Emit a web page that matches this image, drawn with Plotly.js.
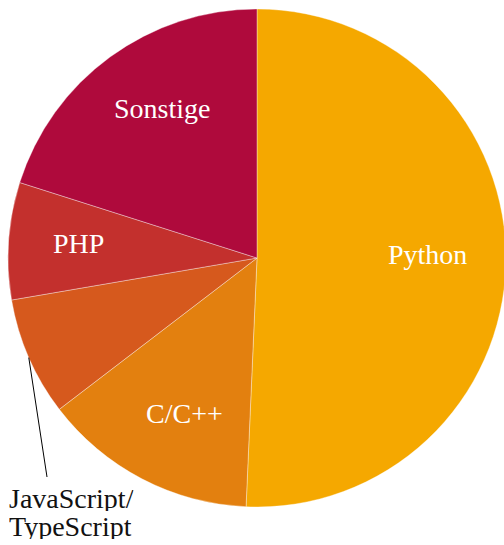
<!DOCTYPE html>
<html>
<head>
<meta charset="utf-8">
<script src="https://cdn.plot.ly/plotly-3.0.1.min.js"></script>
<style>
html, body { margin: 0; padding: 0; overflow: hidden; background: #fff; }
#chart { width: 512px; height: 545px; }
</style>
</head>
<body>
<div id="chart"></div>
<script>
// Data
const languages = ["Python", "C/C++", "JavaScript/<br>TypeScript", "PHP", "Sonstige"];
const shares = [50.7, 13.9, 7.7, 7.6, 20.1];
const sliceColors = ["#F5A800", "#E3800F", "#D6591D", "#C3302D", "#AF0A3C"];
const outsideLabel = "JavaScript/<br>TypeScript";

// Layout constants
const W = 512, H = 545;
const cx = 257, cy = 258, R = 249;
const FONT = "Liberation Serif, Times New Roman, serif";
const FS = 28;
// label anchor positions (pixels, centre of text) for inside labels; outside label left edge
const labelPos = {
  "Python": [427, 254],
  "C/C++": [184, 413],
  "PHP": [78, 243],
  "Sonstige": [162, 109]
};
const outsideText = { x: 8, y: 498, lineGap: 28 };
const leaderEnd = [47, 477];

const trace = {
  type: "pie",
  labels: languages,
  values: shares,
  sort: false,
  direction: "clockwise",
  rotation: 0,
  marker: { colors: sliceColors, line: { color: "rgba(255,255,255,0.6)", width: 0.6 } },
  textinfo: "none",
  hoverinfo: "label+percent",
  domain: { x: [(cx - R) / W, (cx + R) / W], y: [(H - cy - R) / H, (H - cy + R) / H] },
  showlegend: false
};

// Leader line for the outside label: from pie edge at the slice's mid-angle
const total = shares.reduce((a, b) => a + b, 0);
const idx = languages.indexOf(outsideLabel);
let before = 0;
for (let i = 0; i < idx; i++) before += shares[i];
const midFrac = (before + shares[idx] / 2) / total;
const ang = midFrac * 2 * Math.PI; // clockwise from top
const ex = cx + R * Math.sin(ang);
const ey = cy - R * Math.cos(ang);

const annotations = [];
languages.forEach(l => {
  if (l === outsideLabel) {
    l.split("<br>").forEach((t, i) => annotations.push({
      text: t, xref: "paper", yref: "paper",
      x: outsideText.x / W, y: 1 - (outsideText.y + i * outsideText.lineGap) / H,
      xanchor: "left", yanchor: "middle", showarrow: false,
      height: outsideText.lineGap - 2, borderpad: 0,
      font: { family: FONT, size: FS, color: "#111111" }
    }));
  } else {
    const p = labelPos[l];
    annotations.push({
      text: l, xref: "paper", yref: "paper",
      x: p[0] / W, y: 1 - p[1] / H,
      xanchor: "center", yanchor: "middle", showarrow: false,
      font: { family: FONT, size: FS, color: "#ffffff" }
    });
  }
});

const layout = {
  width: W, height: H,
  margin: { l: 0, r: 0, t: 0, b: 0 },
  paper_bgcolor: "#ffffff",
  font: { family: FONT },
  shapes: [{
    type: "line", xref: "paper", yref: "paper",
    x0: ex / W, y0: 1 - ey / H, x1: leaderEnd[0] / W, y1: 1 - leaderEnd[1] / H,
    line: { color: "#000000", width: 1 }
  }],
  annotations: annotations
};

Plotly.newPlot("chart", [trace], layout, { displayModeBar: false, responsive: false });
</script>
</body>
</html>
